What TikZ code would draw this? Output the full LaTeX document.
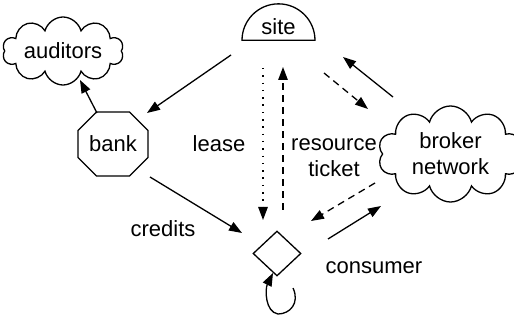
\documentclass[tikz,border=0pt]{standalone}
\usepackage{fontspec}
\setmainfont{Liberation Sans}
\usetikzlibrary{shapes.geometric,shapes.symbols,shapes.misc,arrows.meta,positioning}

\begin{document}
\begin{tikzpicture}[
  x=1pt, y=-1pt,
  every node/.style={font=\fontsize{22}{26}\selectfont, align=center},
  shp/.style={draw, line width=1.3pt, inner sep=2pt},
  puffs/.style={shp, cloud, cloud puffs=#1, cloud ignores aspect},
  arr/.style={-{Triangle[length=13pt, width=9.5pt]}, line width=1.3pt},
  dots/.style={arr, dash pattern=on 1.5pt off 5.8pt},
  dashes/.style={arr, dash pattern=on 7pt off 5pt},
]
  \useasboundingbox (0,0) rectangle (514,320);
  % nodes
  \node[shp, semicircle, minimum width=73pt, minimum height=36pt, anchor=chord center] (site) at (278.5,41) {site};
  \node[puffs=10, minimum width=121pt, minimum height=68pt] (auditors) at (63,51) {auditors};
  \node[shp, chamfered rectangle, chamfered rectangle ysep=15pt, minimum width=70pt, minimum height=64pt] (bank) at (113,144) {bank};
  \node[puffs=10, minimum width=145pt, minimum height=96pt] (broker) at (450.5,154) {broker\\network};
  \node[shp, diamond, inner sep=0pt, minimum width=48pt, minimum height=45pt] (consumer) at (277,253.5) {};
  % labels
  \node (lease)    at (219,144) {lease};
  \node (ticket)   at (334,158) {resource\\ticket};
  \node (credits)  at (163,229) {credits};
  \node (consname) at (374,268) {consumer};
  % edges
  \draw[arr]    ([shift={(-47.5,14)}]site.chord center) -- ([shift={(34,-31)}]bank.center);
  \draw[arr]    ([shift={(-16,-31)}]bank.center) -- ([shift={(17,29)}]auditors.center);
  \draw[arr]    ([shift={(37,33)}]bank.center) -- ([shift={(-35,-20.5)}]consumer.center);
  \draw[dots]   ([shift={(-15.5,27)}]site.chord center) -- ([shift={(-14,-33.5)}]consumer.center);
  \draw[dashes] ([shift={(6,-43.5)}]consumer.center) -- ([shift={(4.5,26)}]site.chord center);
  \draw[dashes] ([shift={(45.5,32)}]site.chord center) -- ([shift={(-82.5,-45)}]broker.center);
  \draw[arr]    ([shift={(-57.5,-57)}]broker.center) -- ([shift={(64.5,16)}]site.chord center);
  \draw[dashes] ([shift={(-75.5,29)}]broker.center) -- ([shift={(34,-32.5)}]consumer.center);
  \draw[arr]    ([shift={(51,-14.5)}]consumer.center) -- ([shift={(-69.5,52)}]broker.center);
  % self loop under the consumer
  \draw[arr] ([shift={(16,34.5)}]consumer.center) .. controls +(7,15) and +(12,0) .. ([shift={(1,60.5)}]consumer.center)
    .. controls +(-13,-2) and +(-8,16) .. ([shift={(-4,19.5)}]consumer.center);
\end{tikzpicture}
\end{document}
